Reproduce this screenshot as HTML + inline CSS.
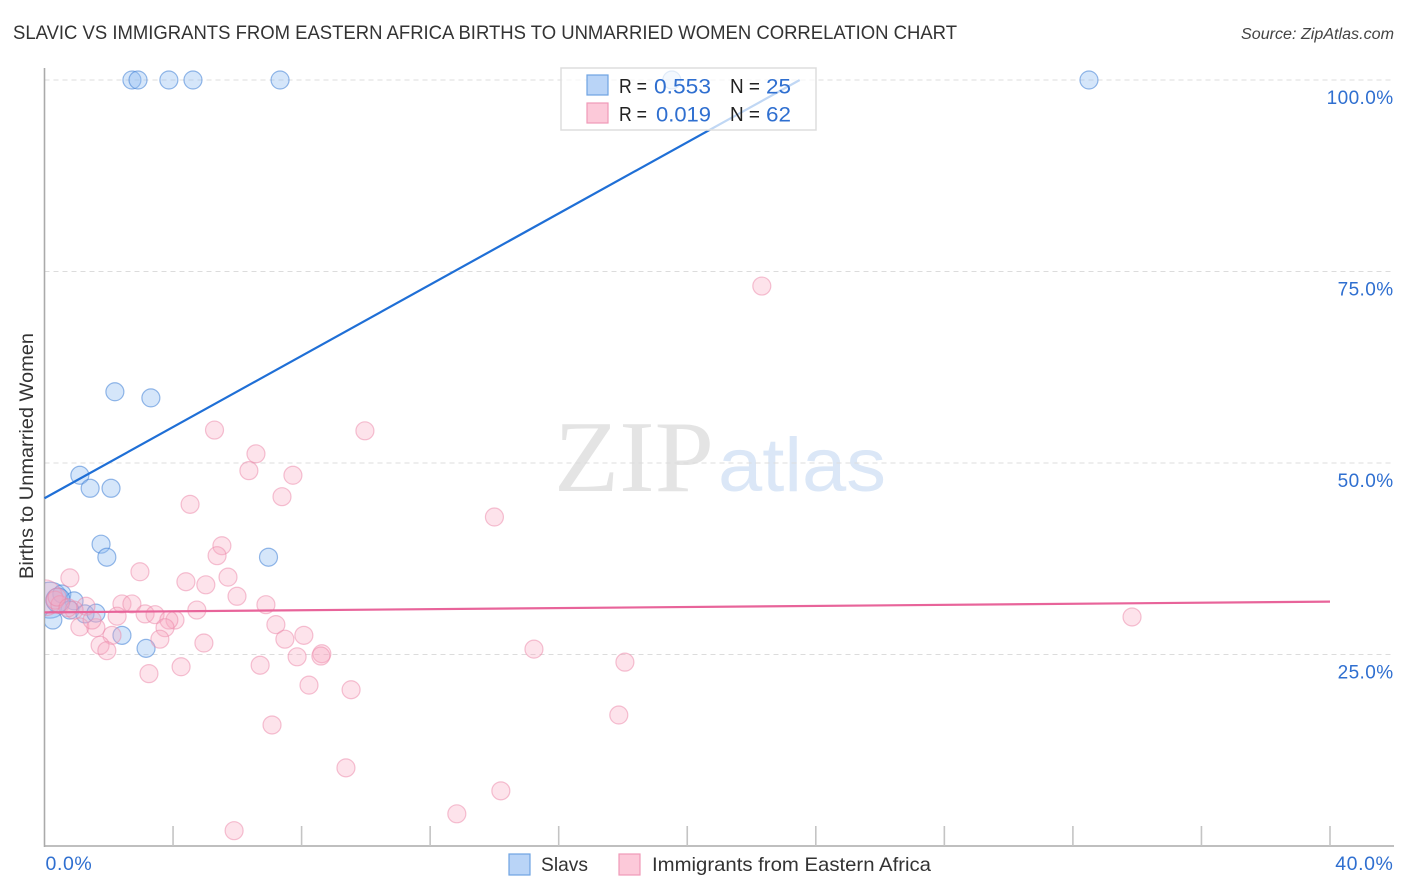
<!DOCTYPE html>
<html>
<head>
<meta charset="utf-8">
<title>Slavic vs Immigrants from Eastern Africa Births to Unmarried Women Correlation Chart</title>
<style>
html,body{margin:0;padding:0;background:#fff;width:1406px;height:892px;overflow:hidden}
svg{display:block;font-family:"Liberation Sans",sans-serif}
</style>
</head>
<body>
<svg id="chart" width="1406" height="892" viewBox="0 0 1406 892">
  <defs><clipPath id="plot-clip"><rect x="45" y="60" width="1349" height="786"/></clipPath></defs>
  <text x="13" y="39" font-size="19.5" fill="#333" textLength="944" lengthAdjust="spacingAndGlyphs">SLAVIC VS IMMIGRANTS FROM EASTERN AFRICA BIRTHS TO UNMARRIED WOMEN CORRELATION CHART</text>
  <text x="1241" y="39" font-size="15.5" font-style="italic" fill="#444" textLength="153" lengthAdjust="spacingAndGlyphs">Source: ZipAtlas.com</text>
  <text x="0" y="0" transform="translate(33,456) rotate(-90)" font-size="19" fill="#333" text-anchor="middle" textLength="246" lengthAdjust="spacingAndGlyphs">Births to Unmarried Women</text>
  <g>
    <text x="554" y="491" font-family="'Liberation Serif',serif" font-size="102" fill="#e4e4e4" textLength="160" lengthAdjust="spacingAndGlyphs">ZIP</text>
    <text x="718" y="491" font-size="76" fill="#dbe7f7" textLength="168" lengthAdjust="spacingAndGlyphs">atlas</text>
  </g>
  <g id="grid"></g>
  <g id="axes"></g>
  <g id="points" clip-path="url(#plot-clip)"></g>
  <g id="lines"></g>
  <g>
    <rect x="561" y="68" width="255" height="62" fill="#fff" fill-opacity="0.72" stroke="#ddd" stroke-width="1.5"/>
    <rect x="587" y="75" width="21" height="20" fill="#b9d4f7" stroke="#6fa3e2" stroke-width="1.2"/>
    <rect x="587" y="103" width="21" height="20" fill="#fcc9d9" stroke="#f09ab8" stroke-width="1.2"/>
    <g font-size="20" fill="#222">
      <text x="619" y="93" textLength="28" lengthAdjust="spacingAndGlyphs">R =</text>
      <text x="730" y="93" textLength="30" lengthAdjust="spacingAndGlyphs">N =</text>
      <text x="619" y="121" textLength="28" lengthAdjust="spacingAndGlyphs">R =</text>
      <text x="730" y="121" textLength="30" lengthAdjust="spacingAndGlyphs">N =</text>
    </g>
    <g font-size="21" fill="#2f6fd0">
      <text x="654" y="93.5" textLength="57" lengthAdjust="spacingAndGlyphs">0.553</text>
      <text x="766" y="93.5" textLength="25" lengthAdjust="spacingAndGlyphs">25</text>
      <text x="656" y="121.5" textLength="55" lengthAdjust="spacingAndGlyphs">0.019</text>
      <text x="766" y="121.5" textLength="25" lengthAdjust="spacingAndGlyphs">62</text>
    </g>
  </g>
  <g id="tick-labels"></g>
  <g>
    <rect x="509" y="854" width="21" height="21" fill="#b9d4f7" stroke="#6fa3e2" stroke-width="1.2"/>
    <text x="541" y="871" font-size="19.5" fill="#333" textLength="47" lengthAdjust="spacingAndGlyphs">Slavs</text>
    <rect x="619" y="854" width="21" height="21" fill="#fcc9d9" stroke="#f09ab8" stroke-width="1.2"/>
    <text x="652" y="871" font-size="19.5" fill="#333" textLength="279" lengthAdjust="spacingAndGlyphs">Immigrants from Eastern Africa</text>
  </g>
</svg>
<script>
const slavX = [2.72,2.91,3.87,4.62,7.33,19.52,32.50,2.19,3.31,1.10,1.42,2.07,1.76,1.94,6.97,2.41,3.16,0.17,0.26,0.54,0.92,0.79,1.26,1.60,0.42];
const slavY = [100,100,100,100,100,100,100,59.3,58.5,48.4,46.7,46.7,39.4,37.7,37.7,27.5,25.8,32.1,29.5,32.9,32.0,30.8,30.3,30.4,32.1];
const slavWeight = [1,1,1,1,1,1,1,1,1,1,1,1,1,1,1,1,1,4,1,1,1,1,1,1,1.8];
const immX = [22.32,33.84,14.0,9.97,5.29,6.58,6.36,7.73,7.39,4.53,5.52,5.37,2.97,0.79,5.71,4.40,5.02,5.99,6.89,2.41,2.72,1.29,4.74,3.13,3.44,2.26,4.06,3.87,3.75,7.20,8.07,7.48,3.59,2.10,4.96,1.10,1.60,1.48,1.73,1.94,15.23,18.06,8.63,8.60,7.86,6.71,4.25,3.25,8.23,9.54,17.87,7.08,9.38,14.2,12.83,5.90,0,0.33,0.48,0.92,0.39,0.73];
const immY = [73.1,29.9,42.95,54.2,54.3,51.2,49.0,48.4,45.6,44.6,39.2,37.9,35.8,35.0,35.1,34.5,34.1,32.6,31.5,31.6,31.6,31.3,30.8,30.3,30.2,30.0,29.5,29.5,28.5,28.9,27.5,27.0,27.0,27.5,26.5,28.6,28.5,29.5,26.2,25.5,25.7,24.0,25.1,24.8,24.7,23.6,23.4,22.5,21.0,20.4,17.1,15.8,10.2,7.2,4.2,2.0,32.4,32.1,31.5,30.8,32.5,31.1];
const immWeight = [1,1,1,1,1,1,1,1,1,1,1,1,1,1,1,1,1,1,1,1,1,1,1,1,1,1,1,1,1,1,1,1,1,1,1,1,1,1,1,1,1,1,1,1,1,1,1,1,1,1,1,1,1,1,1,1,4,1,1,1,1,1];
const slavTrendX = [0,23.5];
const slavTrendY = [45.4,100];
const immTrendX = [0,40];
const immTrendY = [30.5,31.9];
const yTicks = [25,50,75,100];
const yTickLabels = ["25.0%","50.0%","75.0%","100.0%"];
const xTicks = [4,8,12,16,20,24,28,32,36,40];
const xEndValues = [0,40];
const xEndLabels = ["0.0%","40.0%"];

const NS = "http://www.w3.org/2000/svg";
const sx = v => 44.5 + v * (1330 - 44.5) / 40;
const sy = v => 846 - v * (846 - 80) / 100;
const sr = w => 9 * Math.sqrt(w);
function mk(parent, tag, attrs) {
  const el = document.createElementNS(NS, tag);
  for (const k in attrs) el.setAttribute(k, attrs[k]);
  document.getElementById(parent).appendChild(el);
  return el;
}

yTicks.forEach((v, i) => {
  const g = mk("grid", "line", {x1: 44.5, x2: 1394, y1: sy(v), y2: sy(v), stroke: "#dcdcdc", "stroke-width": 1, "stroke-dasharray": "5 4"});
  
  
  const t = mk("tick-labels", "text", {x: 1393.5, y: sy(v) + 24, "font-size": 19, "letter-spacing": 0.4, fill: "#2f6fd0", "text-anchor": "end"});
  t.textContent = yTickLabels[i];
  
  
});

const yAxis = mk("axes", "line", {x1: 44.5, x2: 44.5, y1: 68, y2: 847, stroke: "#aaa", "stroke-width": 1.6});


const xAxis = mk("axes", "line", {x1: 44, x2: 1394, y1: 846, y2: 846, stroke: "#aaa", "stroke-width": 1.6});



xTicks.forEach(v => {
  const k = mk("axes", "line", {x1: sx(v), x2: sx(v), y1: 826, y2: 846, stroke: "#c4c4c4", "stroke-width": 1.6});
  
  
});

xEndValues.forEach((v, i) => {
  const t = mk("tick-labels", "text", {x: i === 0 ? sx(v) + 1 : 1393.5, y: 870, "font-size": 19.5, "letter-spacing": 0.6, fill: "#2f6fd0", "text-anchor": i === 0 ? "start" : "end"});
  t.textContent = xEndLabels[i];
  
  
});

slavX.forEach((v, i) => {
  const c = mk("points", "circle", {cx: sx(v), cy: sy(slavY[i]), r: sr(slavWeight[i]), fill: "#90bcf2", "fill-opacity": 0.38, stroke: "#3f7fd6", "stroke-opacity": 0.55, "stroke-width": 1.2});
  
  
});
immX.forEach((v, i) => {
  const c = mk("points", "circle", {cx: sx(v), cy: sy(immY[i]), r: sr(immWeight[i]), fill: "#f9a8c2", "fill-opacity": 0.32, stroke: "#ec86a8", "stroke-opacity": 0.5, "stroke-width": 1.2});
  
  
});

const l1 = mk("lines", "line", {x1: sx(slavTrendX[0]), y1: sy(slavTrendY[0]), x2: sx(slavTrendX[1]), y2: sy(slavTrendY[1]), stroke: "#1f6fd6", "stroke-width": 2.2});


const l2 = mk("lines", "line", {x1: sx(immTrendX[0]), y1: sy(immTrendY[0]), x2: sx(immTrendX[1]), y2: sy(immTrendY[1]), stroke: "#e8649a", "stroke-width": 2.2});


</script>
</body>
</html>
